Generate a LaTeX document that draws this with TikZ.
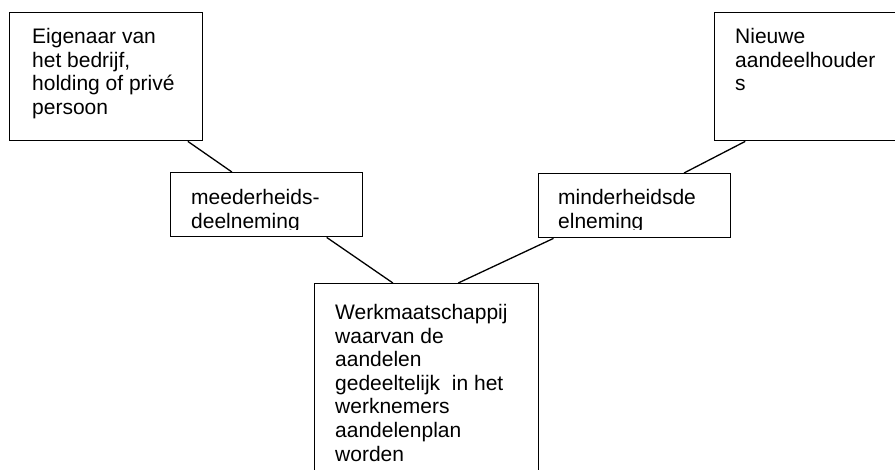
\documentclass[tikz,border=0pt]{standalone}
\usepackage{fontspec}
\setmainfont{Liberation Sans}
\usetikzlibrary{calc}
\begin{document}
\begin{tikzpicture}[x=1pt,y=-1pt]
    \clip (0,0) rectangle (895,470);
    \tikzstyle{boite}=[draw,line width=1.4pt,rectangle,anchor=north west,inner sep=0pt]
    \tikzstyle{texte}=[anchor=north west,inner sep=0pt,align=left,font=\fontsize{21}{23.6}\selectfont]
    \tikzstyle{lien}=[-,line width=1.3pt]

    %%%%%%%%%%%%%%%%%%%%%%%%%%%%%%%%%%%%%% Boites
    \node[boite,minimum width=193pt,minimum height=128pt] (eigenaar) at (9,12) {};
    \node[boite,minimum width=200pt,minimum height=128pt] (nieuwe) at (714,12) {};
    \node[boite,minimum width=192pt,minimum height=64pt] (meerderheid) at (170,172) {};
    \node[boite,minimum width=192pt,minimum height=64pt] (minderheid) at (538,173) {};
    \node[boite,minimum width=224pt,minimum height=220pt] (werk) at (314,283) {};

    %%%%%%%%%%%%%%%%%%%%%%%%%%%%%%%%%%%%%% Textes
    \node[texte] (eigenaar-t) at (32,28) {Eigenaar van\\het bedrijf,\\holding of privé\\persoon};
    \node[texte] (nieuwe-t) at (735,28) {Nieuwe\\aandeelhouder\\s};
    \begin{scope}
        \clip (170,172) rectangle (362,230);
        \node[texte] (meerderheid-t) at (191,189) {meederheids-\\deelneming};
    \end{scope}
    \begin{scope}
        \clip (538,173) rectangle (730,230);
        \node[texte] (minderheid-t) at (558,189) {minderheidsde\\elneming};
    \end{scope}
    \node[texte] (werk-t) at (335,304) {Werkmaatschappij\\waarvan de\\aandelen\\gedeeltelijk\ \ in het\\werknemers\\aandelenplan\\worden};

    %%%%%%%%%%%%%%%%%%%%%%%%%%%%%%%%%%%%%% Liens
    \draw[lien] ($(eigenaar.south west)!0.92!(eigenaar.south east)$) -- ($(meerderheid.north west)!0.32!(meerderheid.north east)$);
    \draw[lien] ($(meerderheid.south west)!0.81!(meerderheid.south east)$) -- ($(werk.north west)!0.35!(werk.north east)$);
    \draw[lien] ($(nieuwe.south west)!0.155!(nieuwe.south east)$) -- ($(minderheid.north west)!0.755!(minderheid.north east)$);
    \draw[lien] ($(minderheid.south west)!0.08!(minderheid.south east)$) -- ($(werk.north west)!0.64!(werk.north east)$);
\end{tikzpicture}
\end{document}
